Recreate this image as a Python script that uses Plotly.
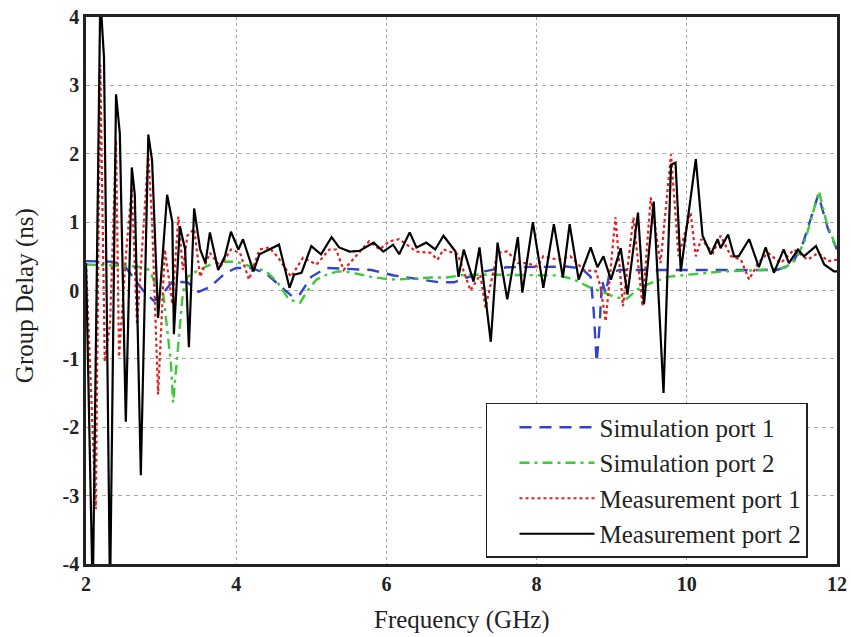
import plotly.graph_objects as go

# Measurement port 2 (black solid)
mp2_f = [2.00, 2.09, 2.19, 2.24, 2.32, 2.40, 2.45, 2.53, 2.61, 2.65, 2.73, 2.83, 2.88, 2.96, 3.08, 3.15, 3.17, 3.25, 3.32, 3.37,
         3.44, 3.52, 3.59, 3.65, 3.76, 3.85, 3.93, 4.03, 4.09, 4.23, 4.31, 4.44, 4.57, 4.71, 4.77, 4.87, 5.00, 5.13, 5.27, 5.37,
         5.51, 5.64, 5.83, 5.96, 6.09, 6.17, 6.31, 6.40, 6.53, 6.65, 6.76, 6.92, 6.96, 7.03, 7.16, 7.24, 7.39, 7.48, 7.61, 7.75,
         7.81, 7.95, 8.09, 8.23, 8.35, 8.44, 8.56, 8.72, 8.81, 8.89, 8.99, 9.12, 9.21, 9.35, 9.43, 9.56, 9.69, 9.79, 9.85, 9.92,
         10.12, 10.21, 10.32, 10.41, 10.45, 10.55, 10.63, 10.69, 10.83, 10.96, 11.05, 11.16, 11.29, 11.36, 11.48, 11.56, 11.72,
         11.83, 11.96, 12.00]
mp2_v = [0.40, -4.5, 4.3, 3.4, -4.5, 2.87, 2.3, -1.92, 1.8, 1.4, -2.7, 2.28, 1.9, -0.4, 1.4, 1.0, -0.64, 0.94, 0.6, -0.83,
         1.2, 0.6, 0.4, 0.85, 0.3, 0.5, 0.86, 0.6, 0.75, 0.28, 0.53, 0.6, 0.67, 0.04, 0.23, 0.26, 0.65, 0.53, 0.78, 0.63,
         0.57, 0.58, 0.7, 0.57, 0.67, 0.53, 0.85, 0.63, 0.7, 0.6, 0.8, 0.57, 0.2, 0.6, 0.13, 0.63, -0.75, 0.7, -0.13, 0.78,
         -0.03, 1.0, 0.04, 0.97, 0.19, 0.97, 0.16, 0.63, 0.34, 0.5, 0.16, 0.62, -0.06, 1.14, -0.2, 1.3, -1.5, 1.84, 1.87, 0.28,
         1.92, 0.8, 0.53, 0.75, 0.62, 0.82, 0.5, 0.5, 0.75, 0.34, 0.63, 0.26, 0.6, 0.4, 0.6, 0.5, 0.65,
         0.38, 0.28, 0.28]

# Measurement port 1 (red dotted)
mp1_f = [2.00, 2.13, 2.19, 2.25, 2.32, 2.40, 2.44, 2.53, 2.61, 2.68, 2.83, 2.88, 2.96, 3.05, 3.15, 3.23, 3.29, 3.35, 3.44,
         3.52, 3.65, 3.79, 3.93, 4.05, 4.17, 4.31, 4.44, 4.56, 4.73, 4.89, 5.07, 5.24, 5.33, 5.43, 5.51, 5.77, 5.91, 6.04,
         6.17, 6.40, 6.59, 6.68, 6.76, 6.95, 7.12, 7.25, 7.32, 7.48, 7.61, 7.75, 7.88, 8.01, 8.09, 8.28, 8.45, 8.63, 8.79,
         8.85, 8.92, 9.05, 9.15, 9.29, 9.41, 9.52, 9.65, 9.79, 9.89, 10.05, 10.12, 10.19, 10.35, 10.45, 10.59, 10.72, 10.83,
         10.95, 11.08, 11.25, 11.43, 11.61, 11.75, 11.88, 12.00]
mp1_v = [0.4, -3.2, 3.3, -1.04, -0.5, 2.2, -0.97, 0.5, 1.5, -0.5, 2.0, 1.0, -1.52, 0.6, -0.2, 1.08, 0.3, 0.8, 0.9,
         0.2, 0.55, 0.35, 0.6, 0.55, 0.16, 0.6, 0.63, 0.48, 0.2, 0.48, 0.38, 0.6, 0.6, 0.3, 0.4, 0.72, 0.6, 0.72,
         0.75, 0.57, 0.55, 0.45, 0.6, 0.53, 0.0, 0.23, -0.25, 0.55, 0.57, 0.4, 0.4, 0.35, 0.5, 0.45, 0.5, 0.3, 0.28,
         0.06, -0.45, 1.07, -0.23, 1.07, -0.23, 1.36, 0.4, 1.99, 0.5, 1.14, 0.5, 0.75, 0.55, 0.8, 0.5, 0.45, 0.16,
         0.4, 0.55, 0.4, 0.6, 0.45, 0.55, 0.43, 0.45]

# Simulation port 1 (blue dashed)
sp1_f = [2.00, 2.35, 2.50, 2.62, 2.76, 2.90, 3.02, 3.15, 3.35, 3.50, 3.65, 3.85, 4.00, 4.20, 4.40, 4.60, 4.75, 4.85, 5.00,
         5.20, 5.50, 5.80, 6.10, 6.40, 6.70, 6.90, 7.10, 7.30, 7.60, 8.00, 8.40, 8.60, 8.72, 8.76, 8.80, 8.84, 8.87, 8.92,
         8.97, 9.10, 9.60, 10.20, 10.80, 11.20, 11.40, 11.55, 11.75, 11.88, 12.00]
sp1_v = [0.43, 0.42, 0.38, 0.2, 0.0, -0.15, -0.05, 0.13, 0.12, -0.02, 0.05, 0.25, 0.33, 0.33, 0.25, 0.05, -0.09, -0.05, 0.2,
         0.33, 0.32, 0.3, 0.22, 0.17, 0.12, 0.12, 0.2, 0.28, 0.34, 0.35, 0.35, 0.32, 0.2, -0.3, -1.05, -0.5, 0.15, -0.05,
         0.25, 0.3, 0.3, 0.3, 0.3, 0.3, 0.38, 0.7, 1.4, 0.9, 0.6]

# Simulation port 2 (green dash-dot)
sp2_f = [2.00, 2.40, 2.70, 2.85, 2.95, 3.03, 3.09, 3.13, 3.16, 3.23, 3.29, 3.35, 3.50, 3.70, 3.85, 4.00, 4.20, 4.40, 4.55,
         4.70, 4.85, 4.95, 5.07, 5.20, 5.35, 5.50, 5.80, 6.05, 6.30, 6.60, 6.80, 7.05, 7.50, 7.90, 8.30, 8.50, 8.70, 8.85,
         9.05, 9.20, 9.35, 9.50, 9.75, 10.00, 10.50, 11.00, 11.30, 11.45, 11.58, 11.76, 11.86, 12.00]
sp2_v = [0.38, 0.36, 0.35, 0.3, 0.0, -0.06, -0.72, -1.05, -1.64, -0.82, -0.03, 0.2, 0.3, 0.4, 0.42, 0.42, 0.35, 0.28, 0.12,
         -0.13, -0.18, 0.0, 0.16, 0.23, 0.28, 0.27, 0.2, 0.16, 0.17, 0.19, 0.19, 0.23, 0.23, 0.23, 0.22, 0.16, 0.05, -0.01,
         -0.1, -0.12, 0.02, 0.1, 0.2, 0.23, 0.28, 0.3, 0.33, 0.45, 0.75, 1.45, 1.0, 0.6]

x_ticks = [2, 4, 6, 8, 10, 12]
y_ticks = [-4, -3, -2, -1, 0, 1, 2, 3, 4]

serif = "Liberation Serif"

fig = go.Figure()
fig.add_trace(go.Scatter(x=sp1_f, y=sp1_v, mode="lines", name="Simulation port 1",
                         line=dict(color="#3344c8", width=2.4, dash="12px,8px")))
fig.add_trace(go.Scatter(x=sp2_f, y=sp2_v, mode="lines", name="Simulation port 2",
                         line=dict(color="#3fc83a", width=2.4, dash="10px,5px,3px,5px")))
fig.add_trace(go.Scatter(x=mp1_f, y=mp1_v, mode="lines", name="Measurement port 1",
                         line=dict(color="#e02020", width=2.2, dash="dot")))
fig.add_trace(go.Scatter(x=mp2_f, y=mp2_v, mode="lines", name="Measurement port 2",
                         line=dict(color="black", width=2.2)))

fig.update_layout(
    width=851, height=637,
    margin=dict(l=86, r=14, t=17, b=73),
    plot_bgcolor="white", paper_bgcolor="white",
    font=dict(family=serif, color="#222"),
    showlegend=True,
    legend=dict(x=0.5326, y=0.011, xanchor="left", yanchor="bottom",
                bgcolor="white", bordercolor="#222", borderwidth=1.5,
                font=dict(family=serif, size=25, color="#222"),
                itemwidth=75, tracegroupgap=0, indentation=27),
    xaxis=dict(range=[2, 12], tickvals=x_ticks, ticktext=[str(t) for t in x_ticks],
               showgrid=True, gridcolor="#aaaaaa", griddash="dot", gridwidth=1.2,
               showline=True, mirror=True, linecolor="#222", linewidth=2.5,
               ticks="", zeroline=False, automargin=False,
               tickfont=dict(family=serif, size=20, weight="bold", color="#222")),
    yaxis=dict(range=[-4, 4], tickvals=y_ticks, ticktext=[str(t) for t in y_ticks],
               showgrid=True, gridcolor="#aaaaaa", griddash="4px,4px", gridwidth=1.2,
               showline=True, mirror=True, linecolor="#222", linewidth=2.5,
               ticks="", zeroline=False, automargin=False,
               tickfont=dict(family=serif, size=20, weight="bold", color="#222")),
    annotations=[
        dict(text="Frequency (GHz)", xref="paper", yref="paper", x=0.5, y=-0.102,
             xanchor="center", yanchor="middle", showarrow=False,
             font=dict(family=serif, size=25, color="#222")),
        dict(text="Group Delay (ns)", xref="paper", yref="paper", x=-0.081, y=0.49,
             xanchor="center", yanchor="middle", showarrow=False, textangle=-90,
             font=dict(family=serif, size=25, color="#222")),
    ],
)

fig.write_html("out.html")
